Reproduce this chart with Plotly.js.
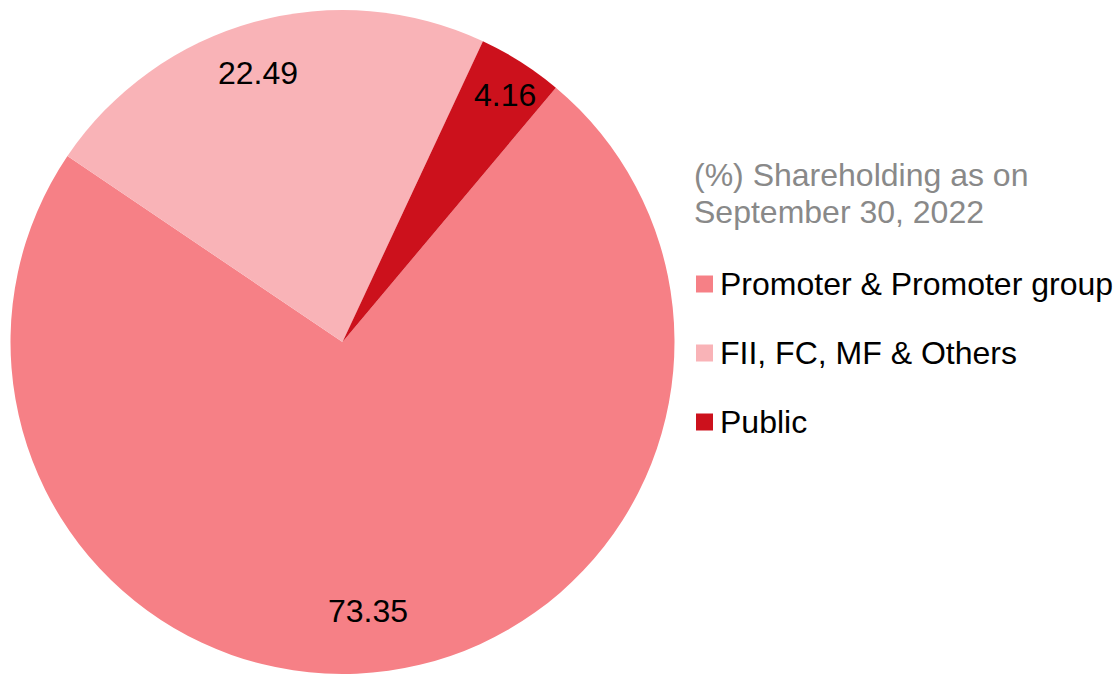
<!DOCTYPE html>
<html>
<head>
<meta charset="utf-8">
<script src="https://cdn.plot.ly/plotly-3.0.1.min.js"></script>
<style>html,body{margin:0;padding:0;background:#fff;}#chart{width:1118px;height:674px;}</style>
</head>
<body>
<div id="chart"></div>
<script>
// ---- data ----
const labels = ["Promoter & Promoter group", "FII, FC, MF & Others", "Public"];
const values = [73.35, 22.49, 4.16];
const valueText = ["73.35", "22.49", "4.16"];
const legendTitle = ["(%) Shareholding as on", "September 30, 2022"];

// ---- style ----
const colors = ["#F68086", "#F9B3B7", "#CC111C"];
const labelRadius = [0.815, 0.85, 0.89];
const labelAngleOffset = [2.5, -2, 0.9];
const W = 1118, H = 674;
const FONT = "Arial, 'Liberation Sans', sans-serif";
const FS = 32;
const startAngle = 40;            // degrees clockwise from 12 o'clock
const pieCx = 342.5, pieCy = 342, pieR = 332;   // px layout box of the pie domain

const px = x => x / W;
const py = y => 1 - y / H;

const trace = {
  type: "pie",
  labels: labels,
  values: values,
  sort: false,
  direction: "clockwise",
  rotation: startAngle,
  marker: {colors: colors, line: {width: 0}},
  textinfo: "none",
  hoverinfo: "label+value",
  showlegend: false,
  domain: {x: [px(pieCx - pieR), px(pieCx + pieR)], y: [py(pieCy + pieR), py(pieCy - pieR)]}
};

const annotations = [];
const shapes = [];

// slice value labels placed along each slice's mid angle
const total = values.reduce((a, b) => a + b, 0);
let acc = 0;
values.forEach((v, i) => {
  const mid = (startAngle + (acc + v / 2) / total * 360 + labelAngleOffset[i]) * Math.PI / 180;
  acc += v;
  const r = pieR * labelRadius[i];
  annotations.push({
    xref: "paper", yref: "paper",
    x: px(pieCx + r * Math.sin(mid)), y: py(pieCy - r * Math.cos(mid)),
    xanchor: "center", yanchor: "middle", showarrow: false,
    text: valueText[i], font: {family: FONT, size: FS, color: "#000"}
  });
});

// legend title
const titleY = [175, 212];
legendTitle.forEach((t, i) => {
  annotations.push({
    xref: "paper", yref: "paper", x: px(692), y: py(titleY[i]),
    xanchor: "left", yanchor: "middle", showarrow: false,
    text: t, font: {family: FONT, size: FS, color: "#898989"}
  });
});

// legend entries
const legY0 = 284, legStep = 69, box = 17;
labels.forEach((l, i) => {
  const cy = legY0 + i * legStep;
  shapes.push({
    type: "rect", xref: "paper", yref: "paper",
    x0: px(696), x1: px(696 + box), y0: py(cy - box / 2), y1: py(cy + box / 2),
    fillcolor: colors[i], line: {width: 0}
  });
  annotations.push({
    xref: "paper", yref: "paper", x: px(718), y: py(cy),
    xanchor: "left", yanchor: "middle", showarrow: false,
    text: l, font: {family: FONT, size: FS, color: "#000"}
  });
});

const layout = {
  width: W, height: H,
  margin: {l: 0, r: 0, t: 0, b: 0},
  paper_bgcolor: "#fff",
  showlegend: false,
  annotations: annotations,
  shapes: shapes
};

Plotly.newPlot("chart", [trace], layout, {displayModeBar: false, staticPlot: true});
</script>
</body>
</html>
